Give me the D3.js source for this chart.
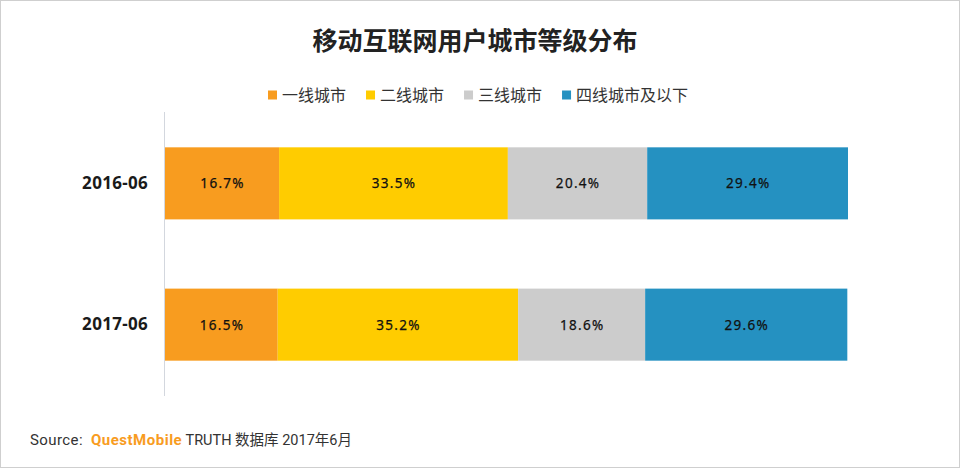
<!DOCTYPE html>
<html>
<head>
<meta charset="utf-8">
<script src="https://cdn.jsdelivr.net/npm/d3@7/dist/d3.min.js"></script>
<style>
	body { margin: 0; background: #fff; }
	svg { display: block; font-family: "Noto Sans CJK SC", "Noto Sans", sans-serif; }
</style>
</head>
<body>
<div id="chart-area"></div>
<script>
// Data
let periods = ["2016-06", "2017-06"];
let tiers = ["一线城市", "二线城市", "三线城市", "四线城市及以下"];
let tierValues = [
	[16.7, 33.5, 20.4, 29.4],
	[16.5, 35.2, 18.6, 29.6]
];
let tierColors = ["#f89c1f", "#ffcc00", "#cccccc", "#2591c1"];

let width_raw = 960,
	height_raw = 468;

let margin = {top: 112, right: 112, bottom: 72, left: 165};

let width = width_raw - margin.left - margin.right,
	height = height_raw - margin.top - margin.bottom;

let root = d3.select("#chart-area")
	.append("svg")
	.attr("width", width_raw)
	.attr("height", height_raw);

// outer frame
root.append("rect")
	.attr("x", 0.5).attr("y", 0.5)
	.attr("width", width_raw - 1).attr("height", height_raw - 1)
	.attr("fill", "#fff")
	.attr("stroke", "#cfcfcf");

// Title
root.append("text")
	.attr("x", width_raw / 2 - 5)
	.attr("y", 50)
	.attr("text-anchor", "middle")
	.attr("font-size", 25)
	.attr("font-weight", "bold")
	.attr("fill", "#222")
	.text("移动互联网用户城市等级分布");

// Legend
let legend = root.append("g").attr("class", "legend");
let lx = 268;
tiers.forEach((t, i) => {
	let item = legend.append("g").attr("transform", "translate(" + lx + ",95)");
	item.append("rect")
		.attr("x", 0).attr("y", -4.5)
		.attr("width", 9).attr("height", 9)
		.attr("fill", tierColors[i]);
	let txt = item.append("text")
		.attr("x", 14)
		.attr("y", 0)
		.attr("dy", "0.35em")
		.attr("font-size", 16)
		.attr("fill", "#333")
		.text(t);
	lx += 14 + txt.node().getComputedTextLength() + 20;
});

let svg = root.append("g")
	.attr("transform", "translate(" + margin.left + "," + margin.top + ")");

// Scales
let xScale = d3.scaleLinear()
	.domain([0, 100])
	.range([0, width]);

let yScale = d3.scaleBand()
	.domain(periods)
	.range([0, height])
	.paddingInner(0.49)
	.paddingOuter(0.25);

// Stack the rows
let rows = periods.map((p, i) => {
	let obj = {period: p};
	tiers.forEach((t, j) => obj[t] = tierValues[i][j]);
	return obj;
});
let series = d3.stack().keys(tiers)(rows);

let groups = svg.selectAll("g.series")
	.data(series)
	.enter()
	.append("g")
	.attr("class", "series")
	.attr("fill", (s, i) => tierColors[i]);

groups.selectAll("rect")
	.data(s => s)
	.enter()
	.append("rect")
	.attr("x", d => xScale(d[0]))
	.attr("y", d => yScale(d.data.period))
	.attr("width", d => xScale(d[1]) - xScale(d[0]))
	.attr("height", yScale.bandwidth());

// Value labels
groups.selectAll("text")
	.data(s => s.map(d => ({key: s.key, d: d})))
	.enter()
	.append("text")
	.attr("x", e => (xScale(e.d[0]) + xScale(e.d[1])) / 2 + 0.6)
	.attr("y", e => yScale(e.d.data.period) + yScale.bandwidth() / 2)
	.attr("dy", "0.36em")
	.attr("text-anchor", "middle")
	.attr("font-family", "'Noto Sans', sans-serif")
	.attr("font-size", 13.5)
	.attr("letter-spacing", 1.3)
	.attr("stroke", "#111")
	.attr("stroke-width", 0.25)
	.attr("fill", "#111")
	.text(e => e.d.data[e.key].toFixed(1) + "%");

// Y axis
let yAxis = d3.axisLeft(yScale).tickSize(0).tickPadding(17);
let yGroup = svg.append("g")
	.attr("class", "axis y-axis")
	.call(yAxis);
yGroup.select(".domain")
	.attr("stroke", "#d3d7de")
	.attr("d", "M-0.5,0V" + height);
yGroup.selectAll("text")
	.attr("font-family", "'Noto Sans', sans-serif")
	.attr("font-size", 17)
	.attr("font-weight", "bold")
	.attr("letter-spacing", 0.3)
	.attr("fill", "#1a1a1a");

// Source
let source = root.append("text")
	.attr("x", 30)
	.attr("y", 445)
	.attr("font-size", 15)
	.attr("font-family", "Roboto, 'Noto Sans CJK SC', sans-serif")
	.attr("fill", "#333");
source.append("tspan").attr("letter-spacing", 0.4).text("Source:");
source.append("tspan")
	.attr("x", 91)
	.attr("fill", "#f89c1f")
	.attr("font-weight", "bold")
	.attr("letter-spacing", 0.5)
	.text("QuestMobile");
source.append("tspan").attr("font-size", 14.5).text(" TRUTH 数据库 2017年6月");
</script>
</body>
</html>
